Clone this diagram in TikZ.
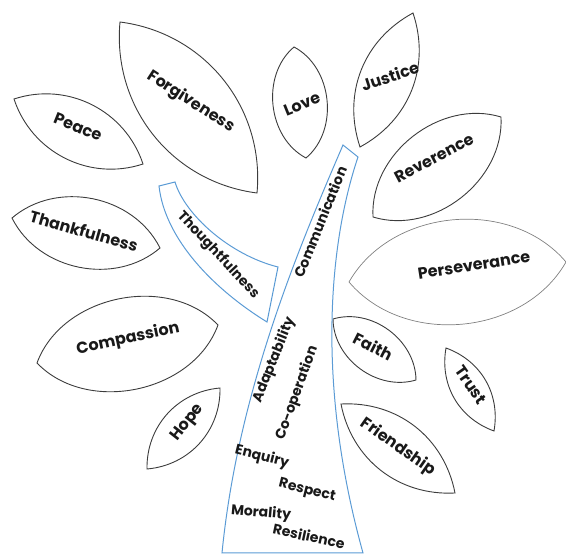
\documentclass[tikz,border=0pt]{standalone}
\usepackage{fontspec}
\setmainfont{Poppins}
\definecolor{branchblue}{RGB}{91,155,213}
\definecolor{leafgray}{RGB}{60,60,60}

\begin{document}
\begin{tikzpicture}[x=1pt, y=-1pt,
    leaf/.style = {draw=leafgray, line width=0.9pt},
    trunk/.style = {draw=branchblue, line width=1pt},
    word/.style = {font=\bfseries\fontsize{16}{18}\selectfont, text=black!90},
    small/.style = {word, font=\bfseries\fontsize{14}{16}\selectfont}]
    \useasboundingbox (0,0) rectangle (566,556);

    \draw[leaf] (120,22) to[bend left=44] (257,193) to[bend left=44] cycle;
    \draw[leaf] (14,99) to[bend left=45] (143,164) to[bend left=45] cycle;
    \draw[leaf] (12,218) to[bend left=52] (160,248) to[bend left=52] cycle;
    \draw[leaf] (37,363) to[bend left=58] (218,325) to[bend left=58] cycle;
    \draw[leaf] (147,469) to[bend left=43] (220,388) to[bend left=43] cycle;
    \draw[leaf] (294,47) to[bend left=56] (306,158) to[bend left=56] cycle;
    \draw[leaf] (413,13) to[bend left=40] (360,147) to[bend left=40] cycle;
    \draw[leaf] (501,117) to[bend left=55] (373,217) to[bend left=55] cycle;
    \draw[leaf, draw=gray, line width=0.7pt] (349,282) to[bend left=55] (566,262) to[bend left=55] cycle;
    \draw[leaf] (333,319) to[bend left=53] (416,380) to[bend left=53] cycle;
    \draw[leaf] (446,348) to[bend left=40] (494,431) to[bend left=40] cycle;
    \draw[leaf] (341,404) to[bend left=41] (455,493) to[bend left=41] cycle;

    \draw[trunk] (222,553) .. controls (238,390) and (300,245) .. (343,145) -- (358,157)
        .. controls (330,240) and (315,380) .. (363,553) -- cycle;
    \draw[trunk] (159,186) -- (175,182) .. controls (185,215) and (230,255) .. (278,267)
        -- (267,322) .. controls (215,290) and (165,240) .. cycle;

    \node[word, rotate=-33] (forgiveness) at (191,102) {Forgiveness};
    \node[word, rotate=-22] (peace) at (78,127) {Peace};
    \node[word, rotate=-16] (thankfulness) at (84,231) {Thankfulness};
    \node[word, rotate=12] (compassion) at (128,339) {Compassion};
    \node[word, rotate=52] (hope) at (188,423) {Hope};
    \node[word, rotate=22] (love) at (302,104) {Love};
    \node[word, rotate=18] (justice) at (390,76) {Justice};
    \node[word, rotate=28] (reverence) at (434,158) {Reverence};
    \node[word, rotate=9] (perseverance) at (474,265) {Perseverance};
    \node[word, rotate=-27] (faith) at (373,346) {Faith};
    \node[word, rotate=-55] (trust) at (471,385) {Trust};
    \node[word, rotate=-35] (friendship) at (398,447) {Friendship};

    \node[small, rotate=-47] (thoughtfulness) at (218,255) {Thoughtfulness};
    \node[small, rotate=68] (communication) at (320,222) {Communication};
    \node[small, rotate=68] (adaptability) at (274,360) {Adaptability};
    \node[small, rotate=70] (cooperation) at (297,393) {Co-operation};
    \node[small, rotate=-14] (enquiry) at (262,457) {Enquiry};
    \node[small, rotate=-14] (respect) at (307,491) {Respect};
    \node[small, rotate=-5] (morality) at (261,513) {Morality};
    \node[small, rotate=-12] (resilience) at (309,536) {Resilience};
\end{tikzpicture}
\end{document}
